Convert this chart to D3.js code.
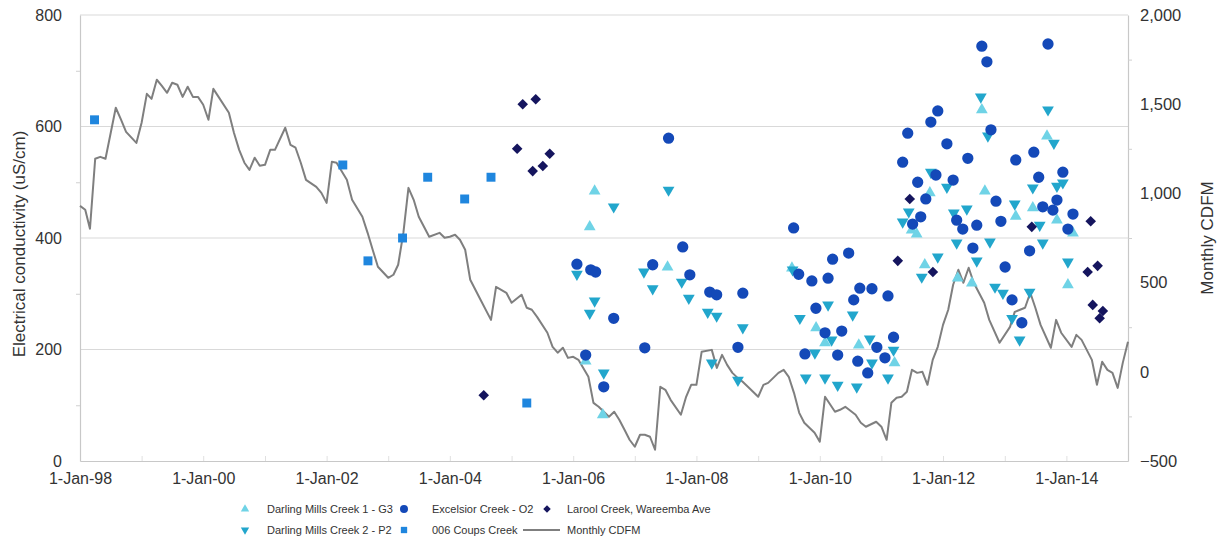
<!DOCTYPE html>
<html>
<head>
<meta charset="utf-8">
<script src="https://cdn.jsdelivr.net/npm/d3@7/dist/d3.min.js"></script>
<style>
  body { margin: 0; background: #ffffff; }
  text { font-family: "Liberation Sans", Arial, sans-serif; fill: #333333; }
</style>
</head>
<body>
<svg id="chart" width="1220" height="542"></svg>
<script>
// ---- Axis ticks -------------------------------------------------------
const xTickDates  = ['1998-01-01','2000-01-01','2002-01-01','2004-01-01','2006-01-01','2008-01-01','2010-01-01','2012-01-01','2014-01-01'];
const xTickLabels = ['1-Jan-98','1-Jan-00','1-Jan-02','1-Jan-04','1-Jan-06','1-Jan-08','1-Jan-10','1-Jan-12','1-Jan-14'];
const ecTicks     = [0, 200, 400, 600, 800];
const cdfmTicks   = [-500, 0, 500, 1000, 1500, 2000];

// ---- Electrical conductivity samples (uS/cm) ---------------------------
const dm1Dates  = ['2006-03-16','2006-04-09','2006-05-08','2006-06-25','2007-07-14',
                   '2009-07-20','2009-12-10','2010-02-01','2010-08-20','2011-03-20',
                   '2011-06-29','2011-07-29','2011-09-15','2011-10-15','2012-03-28','2012-06-20',
                   '2012-08-18','2012-09-05','2013-03-07','2013-06-16','2013-09-08','2013-11-06',
                   '2014-01-10','2014-02-09'];
const dm1Values = [179, 420, 484, 83, 348,
                   346, 239, 212, 208, 176,
                   414, 407, 352, 481, 328, 319,
                   630, 484, 439, 454, 583, 432,
                   316, 409];

const dm2Dates  = ['2006-01-23','2006-04-09','2006-05-08','2006-07-01','2006-08-29','2007-02-24',
                   '2007-04-17','2007-07-20','2007-10-06','2007-11-17','2008-03-08','2008-04-01',
                   '2008-04-30','2008-09-03','2008-10-02',
                   '2009-07-24','2009-09-05','2009-10-10','2009-12-03','2010-02-01','2010-02-19',
                   '2010-03-12','2010-04-17','2010-07-15','2010-08-08','2010-10-24','2010-11-06',
                   '2011-02-09','2011-03-14',
                   '2011-05-07','2011-06-12','2011-08-28','2011-10-21','2011-12-01','2012-01-24',
                   '2012-03-05','2012-03-22','2012-05-21','2012-07-19','2012-08-12','2012-09-23',
                   '2012-10-05','2012-11-04','2012-12-21','2013-02-13','2013-03-01','2013-03-30',
                   '2013-05-28','2013-06-16','2013-07-27','2013-08-14','2013-09-14','2013-10-19',
                   '2013-11-06','2013-12-11','2014-01-10'];
const dm2Values = [335, 265, 287, 158, 456, 339,
                   309, 486, 321, 292, 267, 176,
                   260, 145, 239,
                   343, 256, 149, 194, 149, 280,
                   217, 136, 262, 133, 219, 176,
                   149, 199,
                   429, 447, 330, 518, 366, 491,
                   445, 391, 452, 359, 653, 583,
                   393, 312, 301, 256, 461, 217,
                   303, 490, 423, 391, 630, 570,
                   493, 499, 357];

const o2Dates  = ['2006-01-23','2006-03-16','2006-04-15','2006-05-14','2006-07-01','2006-08-29',
                  '2007-03-01','2007-04-17','2007-07-20','2007-10-12','2007-11-23','2008-03-20',
                  '2008-04-30','2008-09-03','2008-10-02',
                  '2009-07-30','2009-08-29','2009-10-05','2009-11-15','2009-12-09','2010-02-01',
                  '2010-02-19','2010-03-18','2010-04-17','2010-05-11','2010-06-21','2010-07-21',
                  '2010-08-14','2010-08-26','2010-10-12','2010-11-06','2010-12-05','2011-01-22',
                  '2011-02-09','2011-03-14',
                  '2011-05-07','2011-06-06','2011-07-05','2011-08-04','2011-08-22','2011-09-21',
                  '2011-10-21','2011-11-20','2011-12-01','2012-01-24','2012-03-01','2012-03-22',
                  '2012-04-27','2012-05-27','2012-06-26','2012-07-19','2012-08-18','2012-09-17',
                  '2012-10-11','2012-11-10','2012-12-09','2013-01-03','2013-02-13','2013-03-07',
                  '2013-04-12','2013-05-28','2013-06-22','2013-07-21','2013-08-14','2013-09-14',
                  '2013-10-13','2013-11-06','2013-12-11','2014-01-10','2014-02-09'];
const o2Values = [353, 190, 343, 339, 133, 256,
                  203, 352, 579, 384, 334, 303,
                  298, 204, 301,
                  418, 335, 192, 323, 274, 230,
                  328, 362, 190, 233, 373, 289,
                  179, 310, 158, 309, 204, 185,
                  296, 222,
                  536, 588, 425, 500, 438, 470,
                  608, 513, 628, 569, 504, 432,
                  416, 543, 382, 423, 744, 716,
                  594, 466, 430, 348, 289, 540,
                  248, 377, 554, 509, 456, 748,
                  450, 468, 518, 416, 443];

const laroolDates  = ['2004-07-20','2005-02-03','2005-03-08','2005-05-06','2005-05-24','2005-07-05',
                      '2005-08-15','2011-04-08','2011-06-18','2011-11-02','2013-06-10','2014-05-07',
                      '2014-05-25','2014-06-06','2014-07-05','2014-07-17','2014-08-05'];
const laroolValues = [118, 560, 640, 520, 649, 529,
                      551, 359, 470, 339, 420, 339,
                      430, 280, 350, 256, 269];

const coupsDates  = ['1998-03-28','2002-04-07','2002-09-03','2003-03-27','2003-08-23','2004-03-29',
                     '2004-09-01','2005-04-01'];
const coupsValues = [612, 531, 359, 400, 509, 470, 509, 104];

// ---- Monthly cumulative deviation from mean rainfall ----------------------
const cdfmMonths = ['1998-01','1998-02','1998-03','1998-04','1998-05','1998-06','1998-08','1998-09','1998-10','1998-12',
  '1999-01','1999-02','1999-03','1999-04','1999-05','1999-06','1999-07','1999-08','1999-09','1999-10','1999-11','1999-12',
  '2000-01','2000-02','2000-03','2000-04','2000-06','2000-07','2000-08','2000-09','2000-10','2000-11','2000-12',
  '2001-01','2001-02','2001-03','2001-05','2001-06','2001-07','2001-08','2001-09','2001-11','2001-12',
  '2002-01','2002-02','2002-03','2002-05','2002-06','2002-08','2002-09','2002-10','2002-11',
  '2003-01','2003-02','2003-03','2003-04','2003-05','2003-06','2003-07','2003-09','2003-11','2003-12',
  '2004-01','2004-02','2004-03','2004-04','2004-05','2004-07','2004-09','2004-10','2004-12',
  '2005-01','2005-03','2005-04','2005-05','2005-06','2005-08','2005-09','2005-10','2005-11','2005-12',
  '2006-01','2006-02','2006-04','2006-05','2006-06','2006-08','2006-09','2006-10','2006-11','2006-12',
  '2007-01','2007-02','2007-03','2007-04','2007-05','2007-06','2007-07','2007-08','2007-10','2007-11','2007-12',
  '2008-01','2008-02','2008-04','2008-05','2008-06','2008-07','2008-08','2008-09','2008-10','2008-11',
  '2009-01','2009-02','2009-03','2009-05','2009-06','2009-07','2009-08','2009-09','2009-10','2009-12',
  '2010-01','2010-02','2010-04','2010-05','2010-06','2010-08','2010-09','2010-10','2010-12',
  '2011-01','2011-02','2011-03','2011-04','2011-05','2011-06','2011-07','2011-08','2011-09','2011-10','2011-11','2011-12',
  '2012-01','2012-02','2012-03','2012-04','2012-05','2012-06','2012-07','2012-09','2012-10','2012-12',
  '2013-02','2013-03','2013-05','2013-06','2013-07','2013-08','2013-10','2013-11','2013-12',
  '2014-02','2014-03','2014-04','2014-06','2014-07','2014-08','2014-09','2014-10','2014-11','2014-12','2015-01'];
const cdfmValues = [930, 908, 802, 1194, 1205, 1194, 1480, 1413, 1345, 1283,
  1396, 1558, 1530, 1637, 1603, 1564, 1620, 1609, 1541, 1598, 1541, 1541,
  1497, 1413, 1586, 1541, 1452, 1340, 1244, 1172, 1132, 1200, 1155,
  1160, 1244, 1244, 1368, 1272, 1256, 1172, 1076, 1037, 1003,
  947, 1177, 1172, 1076, 964, 869, 779, 684, 589,
  527, 544, 600, 780, 1031, 964, 869, 757, 779, 751,
  757, 768, 740, 684, 516, 404, 291, 476, 443,
  387, 432, 359, 348, 308, 219, 140, 107, 135, 78,
  84, 67, -28, -174, -196, -252, -224, -269, -325, -381,
  -420, -353, -353, -364, -437, -84, -101, -157, -241, -140, -73,
  -73, 112, 123, 22, 95, 39, -6, -34, -56, -84,
  -140, -73, -62, -6, 11, -28, -118, -230, -286, -342,
  -392, -140, -224, -213, -196, -241, -286, -308, -280,
  -308, -381, -174, -146, -140, -112, 11, -6, 0, -73, 67, 140,
  263, 348, 488, 572, 499, 583, 499, 387, 291, 163,
  252, 336, 359, 443, 359, 263, 135, 291, 219,
  140, 207, 179, 67, -73, 56, 11, -6, -90, 50, 168];

// ---- Layout -------------------------------------------------------------
const W = 1220, H = 542;
const plot = { left: 80, right: 1128, top: 15, bottom: 461 };

const parseDay = d3.timeParse('%Y-%m-%d');
const parseMonth = d3.timeParse('%Y-%m');

const x = d3.scaleTime()
  .domain([parseDay('1998-01-01'), parseDay('2015-01-01')])
  .range([plot.left, plot.right]);
const yEC = d3.scaleLinear().domain([0, 800]).range([plot.bottom, plot.top]);
const yCD = d3.scaleLinear().domain([-500, 2000]).range([plot.bottom, plot.top]);

const svg = d3.select('#chart');
svg.append('rect').attr('width', W).attr('height', H).attr('fill', '#ffffff');

// horizontal gridlines on the conductivity scale
svg.append('g')
  .selectAll('line')
  .data(ecTicks.filter(v => v > 0))
  .join('line')
  .attr('x1', plot.left).attr('x2', plot.right)
  .attr('y1', d => yEC(d)).attr('y2', d => yEC(d))
  .attr('stroke', '#d9d9d9').attr('stroke-width', 1.2);

// left axis
const leftAxis = svg.append('g').attr('transform', `translate(${plot.left},0)`)
  .call(d3.axisLeft(yEC).tickValues(ecTicks).tickSize(0).tickPadding(18).tickFormat(d3.format('d')));
leftAxis.select('.domain').attr('stroke', '#c8c8c8').attr('stroke-width', 1.2);
leftAxis.selectAll('text').style('font-size', '16px').attr('fill', '#333');
svg.append('g').attr('transform', `translate(${plot.left},0)`)
  .call(d3.axisLeft(yEC).tickValues([100, 300, 500, 700]).tickSize(4).tickFormat(''))
  .call(g => { g.select('.domain').remove(); g.selectAll('line').attr('stroke', '#d0d0d0'); });

// right axis
const rightAxis = svg.append('g').attr('transform', `translate(${plot.right},0)`)
  .call(d3.axisRight(yCD).tickValues(cdfmTicks).tickSize(0).tickPadding(12).tickFormat(d3.format(',')));
rightAxis.select('.domain').attr('stroke', '#c8c8c8').attr('stroke-width', 1.2);
rightAxis.selectAll('text').style('font-size', '16.5px').attr('fill', '#333');
svg.append('g').attr('transform', `translate(${plot.right},0)`)
  .call(d3.axisRight(yCD).tickValues([-250, 250, 750, 1250, 1750]).tickSize(4).tickFormat(''))
  .call(g => { g.select('.domain').remove(); g.selectAll('line').attr('stroke', '#d0d0d0'); });

// bottom axis
const yearTicks = d3.timeYear.range(parseDay('1999-01-01'), parseDay('2015-01-01'));
svg.append('g').attr('transform', `translate(0,${plot.bottom})`)
  .call(d3.axisTop(x).tickValues(yearTicks).tickSize(5).tickFormat(''))
  .call(g => { g.select('.domain').remove(); g.selectAll('line').attr('stroke', '#e0e0e0'); });
const bottomAxis = svg.append('g').attr('transform', `translate(0,${plot.bottom})`)
  .call(d3.axisBottom(x).tickValues(xTickDates.map(parseDay)).tickSize(0).tickPadding(12)
    .tickFormat((d, i) => xTickLabels[i]));
bottomAxis.select('.domain').attr('stroke', '#c8c8c8').attr('stroke-width', 1.2);
bottomAxis.selectAll('text').style('font-size', '16px').attr('fill', '#333');

// axis titles
svg.append('text')
  .attr('transform', `translate(19,${(plot.top + plot.bottom) / 2 + 6}) rotate(-90)`)
  .attr('text-anchor', 'middle').attr('dominant-baseline', 'central')
  .style('font-size', '17px')
  .text('Electrical conductivity (uS/cm)');
svg.append('text')
  .attr('transform', `translate(1207,238) rotate(-90)`)
  .attr('text-anchor', 'middle').attr('dominant-baseline', 'central')
  .style('font-size', '17px')
  .text('Monthly CDFM');

// CDFM line (secondary axis)
const line = d3.line()
  .x((d, i) => x(parseMonth(cdfmMonths[i])))
  .y(d => yCD(d));
svg.append('path')
  .datum(cdfmValues)
  .attr('d', line)
  .attr('fill', 'none')
  .attr('stroke', '#7f7f7f')
  .attr('stroke-width', 2)
  .attr('stroke-linejoin', 'round');

// sample series
const series = [
  { name: 'Darling Mills Creek 1 - G3', dates: dm1Dates, values: dm1Values, shape: d3.symbolTriangle, size: 60, rotate: 0, color: '#6fd3e6' },
  { name: 'Darling Mills Creek 2 - P2', dates: dm2Dates, values: dm2Values, shape: d3.symbolTriangle, size: 60, rotate: 180, color: '#22a6cc' },
  { name: 'Excelsior Creek - O2', dates: o2Dates, values: o2Values, shape: d3.symbolCircle, size: 100, rotate: 0, color: '#1449b8' },
  { name: 'Larool Creek, Wareemba Ave', dates: laroolDates, values: laroolValues, shape: d3.symbolSquare, size: 56, rotate: 45, color: '#15155e' },
  { name: '006 Coups Creek', dates: coupsDates, values: coupsValues, shape: d3.symbolSquare, size: 80, rotate: 0, color: '#1f86de' }
];

series.forEach(s => {
  const sym = d3.symbol().type(s.shape).size(s.size);
  svg.append('g')
    .selectAll('path')
    .data(s.values)
    .join('path')
    .attr('d', sym)
    .attr('transform', (v, i) => `translate(${x(parseDay(s.dates[i]))},${yEC(v)}) rotate(${s.rotate})`)
    .attr('fill', s.color);
});

// legend
const legendItems = [
  { s: series[0], col: 0, row: 0 },
  { s: series[2], col: 1, row: 0 },
  { s: series[3], col: 2, row: 0 },
  { s: series[1], col: 0, row: 1 },
  { s: series[4], col: 1, row: 1 },
  { s: null, col: 2, row: 1 }
];
const colMarker = [245, 404, 547];
const colText = [267, 432, 567];
const rowY = [509, 530];
const legend = svg.append('g');
legendItems.forEach(it => {
  const y = rowY[it.row];
  if (it.s) {
    legend.append('path')
      .attr('d', d3.symbol().type(it.s.shape).size(it.s.size * 0.5)())
      .attr('transform', `translate(${colMarker[it.col]},${y}) rotate(${it.s.rotate})`)
      .attr('fill', it.s.color);
  } else {
    legend.append('line')
      .attr('x1', 523).attr('x2', 560).attr('y1', y).attr('y2', y)
      .attr('stroke', '#7f7f7f').attr('stroke-width', 2);
  }
  legend.append('text')
    .attr('x', colText[it.col]).attr('y', y)
    .attr('dominant-baseline', 'central')
    .style('font-size', '11px')
    .text(it.s ? it.s.name : 'Monthly CDFM');
});
</script>
</body>
</html>
